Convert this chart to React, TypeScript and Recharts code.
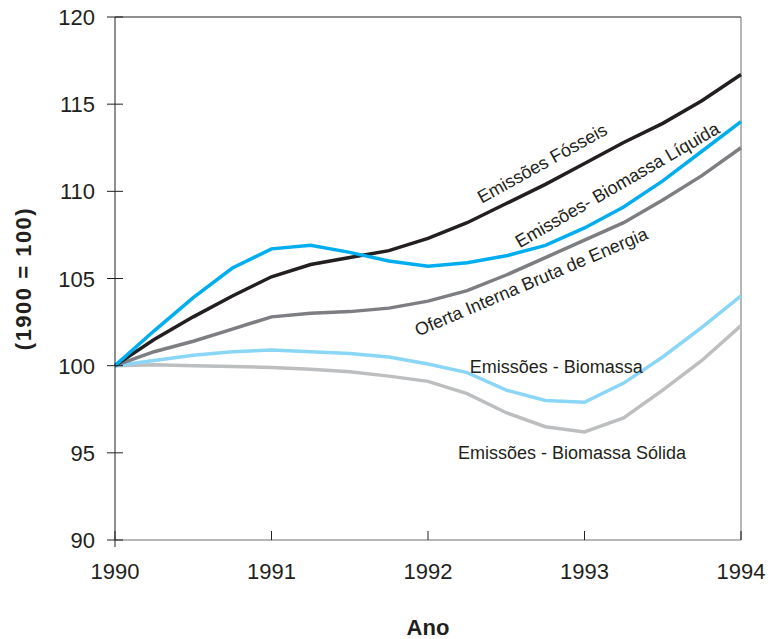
import React from "react";
import { LineChart, Line, XAxis, YAxis, ReferenceLine, ReferenceDot } from "recharts";

const years = [
  1990, 1990.25, 1990.5, 1990.75, 1991, 1991.25, 1991.5, 1991.75, 1992,
  1992.25, 1992.5, 1992.75, 1993, 1993.25, 1993.5, 1993.75, 1994,
];
const fosseis = [100, 101.5, 102.8, 104.0, 105.1, 105.8, 106.2, 106.6, 107.3, 108.2, 109.3, 110.4, 111.6, 112.8, 113.9, 115.2, 116.7];
const liquida = [100, 102.0, 103.9, 105.6, 106.7, 106.9, 106.5, 106.0, 105.7, 105.9, 106.3, 106.9, 107.9, 109.1, 110.6, 112.3, 114.0];
const oferta = [100, 100.8, 101.4, 102.1, 102.8, 103.0, 103.1, 103.3, 103.7, 104.3, 105.2, 106.2, 107.2, 108.2, 109.5, 110.9, 112.5];
const biomassa = [100, 100.3, 100.6, 100.8, 100.9, 100.8, 100.7, 100.5, 100.1, 99.6, 98.6, 98.0, 97.9, 99.0, 100.5, 102.2, 104.0];
const solida = [100, 100.05, 100.0, 99.95, 99.9, 99.8, 99.65, 99.4, 99.1, 98.4, 97.3, 96.5, 96.2, 97.0, 98.6, 100.3, 102.3];

const xTicks = [1990, 1991, 1992, 1993, 1994];
const yTicks = [90, 95, 100, 105, 110, 115, 120];

// curve captions: text, anchor in data units, rotation
const captions = [
  { text: "Emissões Fósseis", x: 1992.73, y: 111.6, angle: -29 },
  { text: "Emissões- Biomassa Líquida", x: 1993.21, y: 110.36, angle: -30 },
  { text: "Oferta Interna Bruta de Energia", x: 1992.66, y: 104.8, angle: -23 },
  { text: "Emissões - Biomassa", x: 1992.82, y: 99.92, angle: 0 },
  { text: "Emissões - Biomassa Sólida", x: 1992.92, y: 94.99, angle: 0 },
];

const data = years.map((ano, i) => ({
  ano,
  fosseis: fosseis[i],
  liquida: liquida[i],
  oferta: oferta[i],
  biomassa: biomassa[i],
  solida: solida[i],
}));

const FONT = '"Liberation Sans", Arial, sans-serif';
const INK = "#231f20";

const YTick = ({ x, y, payload }: any) => (
  <g>
    <line x1={x - 8} x2={x + 8} y1={y} y2={y} stroke={INK} strokeWidth={1} />
    <text x={x - 20} y={y} dy={8} textAnchor="end" fontSize={22} fontFamily={FONT} fill={INK}>
      {payload.value}
    </text>
  </g>
);

const XTick = ({ x, y, payload, index }: any) => (
  <g>
    <line x1={x} x2={x} y1={y - 9} y2={index === 0 ? y + 7 : y} stroke={INK} strokeWidth={1} />
    <text x={x} y={y + 39} textAnchor="middle" fontSize={22} fontFamily={FONT} fill={INK}>
      {payload.value}
    </text>
  </g>
);

const caption = (text: string, angle: number) => (props: any) => {
  const { viewBox } = props;
  const cx = viewBox.x + viewBox.width / 2;
  const cy = viewBox.y + viewBox.height / 2;
  return (
    <text
      x={cx}
      y={cy}
      dy={6}
      transform={`rotate(${angle} ${cx} ${cy})`}
      textAnchor="middle"
      fontSize={18}
      fontFamily={FONT}
      fill={INK}
    >
      {text}
    </text>
  );
};

export default function App() {
  return (
    <div style={{ position: "absolute", left: 0, top: 0, width: 770, height: 639, background: "#fff" }}>
      <LineChart width={770} height={639} data={data} margin={{ top: 17, right: 29, bottom: 0, left: 0 }}>
        <XAxis
          dataKey="ano"
          type="number"
          domain={[1990, 1994]}
          ticks={xTicks}
          tickLine={false}
          tickSize={0}
          tickMargin={0}
          height={99}
          axisLine={{ stroke: "#6d6e71", strokeWidth: 1 }}
          tick={<XTick />}
          label={{
            value: "Ano",
            position: "insideBottom",
            offset: 4,
            style: { fontSize: 22, fontWeight: 700, fontFamily: FONT, fill: INK },
          }}
        />
        <YAxis
          type="number"
          domain={[90, 120]}
          ticks={yTicks}
          width={115}
          tickLine={false}
          tickSize={0}
          tickMargin={0}
          axisLine={{ stroke: INK, strokeWidth: 1 }}
          tick={<YTick />}
          label={{
            value: "(1900 = 100)",
            angle: -90,
            position: "insideLeft",
            offset: 23,
            style: {
              fontSize: 22,
              fontWeight: 700,
              fontFamily: FONT,
              fill: INK,
              textAnchor: "middle",
              letterSpacing: 1.5,
            },
          }}
        />
        <ReferenceLine y={120} stroke={INK} strokeWidth={1} />
        <ReferenceLine x={1994} stroke="#6d6e71" strokeWidth={1} />
        <Line dataKey="solida" type="linear" stroke="#bcbec0" strokeWidth={3.5} dot={false} isAnimationActive={false} />
        <Line dataKey="biomassa" type="linear" stroke="#8ad6f6" strokeWidth={3.5} dot={false} isAnimationActive={false} />
        <Line dataKey="oferta" type="linear" stroke="#7d7e81" strokeWidth={3.5} dot={false} isAnimationActive={false} />
        <Line dataKey="fosseis" type="linear" stroke={INK} strokeWidth={3.5} dot={false} isAnimationActive={false} />
        <Line dataKey="liquida" type="linear" stroke="#00aeef" strokeWidth={3.5} dot={false} isAnimationActive={false} />
        {captions.map((c) => (
          <ReferenceDot
            key={c.text}
            x={c.x}
            y={c.y}
            r={0}
            fill="none"
            stroke="none"
            label={{ content: caption(c.text, c.angle) }}
          />
        ))}
      </LineChart>
    </div>
  );
}
